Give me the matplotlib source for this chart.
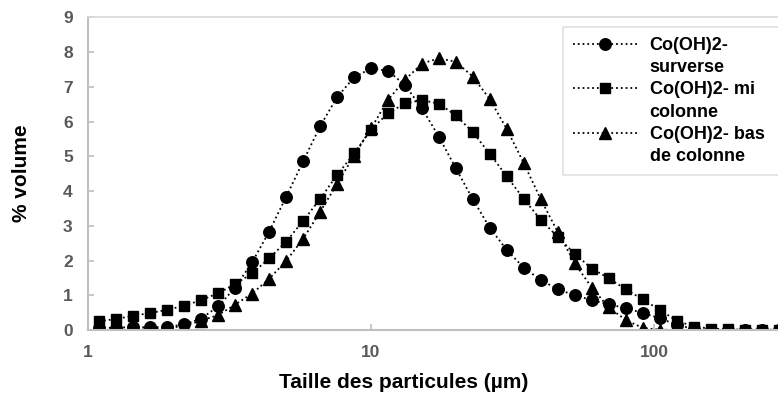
import matplotlib
matplotlib.use("Agg")
import matplotlib.pyplot as plt
from matplotlib.lines import Line2D

plt.rcParams['font.family'] = ['Liberation Sans', 'DejaVu Sans']
plt.rcParams['font.weight'] = 'bold'

# Particle size classes (µm)
sizes = [1.096, 1.259, 1.445, 1.660, 1.905, 2.188, 2.512, 2.884, 3.311, 3.802,
         4.365, 5.012, 5.754, 6.607, 7.586, 8.710, 10.00, 11.48, 13.18, 15.14,
         17.38, 19.95, 22.91, 26.30, 30.20, 34.67, 39.81, 45.71, 52.48, 60.26,
         69.18, 79.43, 91.20, 104.7, 120.2, 138.0, 158.5, 182.0, 208.9, 239.9,
         275.4]

surverse = [0.05, 0.07, 0.08, 0.08, 0.09, 0.16, 0.33, 0.68, 1.22, 1.95,
            2.83, 3.83, 4.85, 5.86, 6.70, 7.27, 7.53, 7.46, 7.05, 6.38,
            5.56, 4.65, 3.76, 2.94, 2.30, 1.79, 1.44, 1.17, 1.00, 0.86,
            0.74, 0.63, 0.49, 0.34, 0.15, 0.03, 0.0, 0.0, 0.0, 0.0,
            0.0]

mi_colonne = [0.25, 0.32, 0.41, 0.49, 0.58, 0.70, 0.86, 1.06, 1.32, 1.63,
              2.06, 2.54, 3.14, 3.77, 4.46, 5.08, 5.76, 6.24, 6.52, 6.62,
              6.51, 6.18, 5.69, 5.07, 4.42, 3.77, 3.17, 2.68, 2.19, 1.77,
              1.49, 1.17, 0.88, 0.58, 0.27, 0.10, 0.04, 0.02, 0.01, 0.01,
              0.01]

bas_colonne = [0.0, 0.0, 0.01, 0.02, 0.05, 0.12, 0.27, 0.43, 0.73, 1.05,
               1.47, 1.99, 2.62, 3.40, 4.20, 5.02, 5.80, 6.62, 7.20, 7.67,
               7.82, 7.72, 7.29, 6.64, 5.78, 4.80, 3.76, 2.82, 1.92, 1.22,
               0.65, 0.29, 0.06, 0.01, 0.0, 0.0, 0.0, 0.0, 0.0, 0.0,
               0.0]

labels = ["Co(OH)2-\nsurverse", "Co(OH)2- mi\ncolonne", "Co(OH)2- bas\nde colonne"]
xticks = [1, 10, 100]
xticklabels = ["1", "10", "100"]
yticks = list(range(0, 10))

W, H = 778, 394
fig = plt.figure(figsize=(W / 100, H / 100), dpi=100)
ax = fig.add_axes([88 / W, (H - 330) / H, 849 / W, (330 - 17.3) / H])

style = dict(color='black', linestyle=':', linewidth=1.3)
l1, = ax.plot(sizes, surverse, marker='o', markersize=8.3, **style)
l2, = ax.plot(sizes, mi_colonne, marker='s', markersize=7.8, **style)
l3, = ax.plot(sizes, bas_colonne, marker='^', markersize=8.8, **style)

ax.set_xscale('log')
ax.set_xlim(1, 1000)
ax.set_ylim(0, 9)
ax.set_xticks(xticks)
ax.set_xticklabels(xticklabels)
ax.xaxis.set_minor_locator(matplotlib.ticker.NullLocator())
ax.set_yticks(yticks)

tick_col = '#595959'
ax.tick_params(axis='both', direction='in', length=4, width=1.2, color='#bfbfbf',
               labelcolor=tick_col, labelsize=12.5)
ax.tick_params(axis='y', pad=11)
ax.tick_params(axis='x', pad=11)
for t in ax.get_xticklabels() + ax.get_yticklabels():
    t.set_fontweight('bold')

for s in ['left', 'bottom']:
    ax.spines[s].set_color('#bfbfbf')
    ax.spines[s].set_linewidth(1.5)
ax.spines['top'].set_color('#d9d9d9')
ax.spines['top'].set_linewidth(1.2)
ax.spines['right'].set_visible(False)

fig.text(22 / W, 1 - 173 / H, "% volume", rotation=90, ha='center', va='center',
         fontsize=15, fontweight='bold', color='black')
fig.text(404 / W, 1 - 382 / H, "Taille des particules (µm)", ha='center', va='center',
         fontsize=15, fontweight='bold', color='black')

blank = Line2D([], [], linestyle='none', marker=None)
handles = [l1, blank, l2, blank, l3, blank]
leg_labels = []
for lab in labels:
    a, b = lab.split("\n")
    leg_labels += [a, b]
leg = fig.legend(handles, leg_labels, loc='upper left',
                 bbox_to_anchor=(563 / W, 1 - 27 / H, 235 / W, 0), mode='expand',
                 prop={'family': 'Liberation Sans', 'weight': 'bold', 'size': 13},
                 frameon=True, fancybox=False, edgecolor='#d9d9d9',
                 handlelength=3.6, handletextpad=0.65, labelspacing=0.29,
                 borderpad=0.55, borderaxespad=0)
leg.get_frame().set_linewidth(1.2)

fig.savefig("out.png", dpi=100)
